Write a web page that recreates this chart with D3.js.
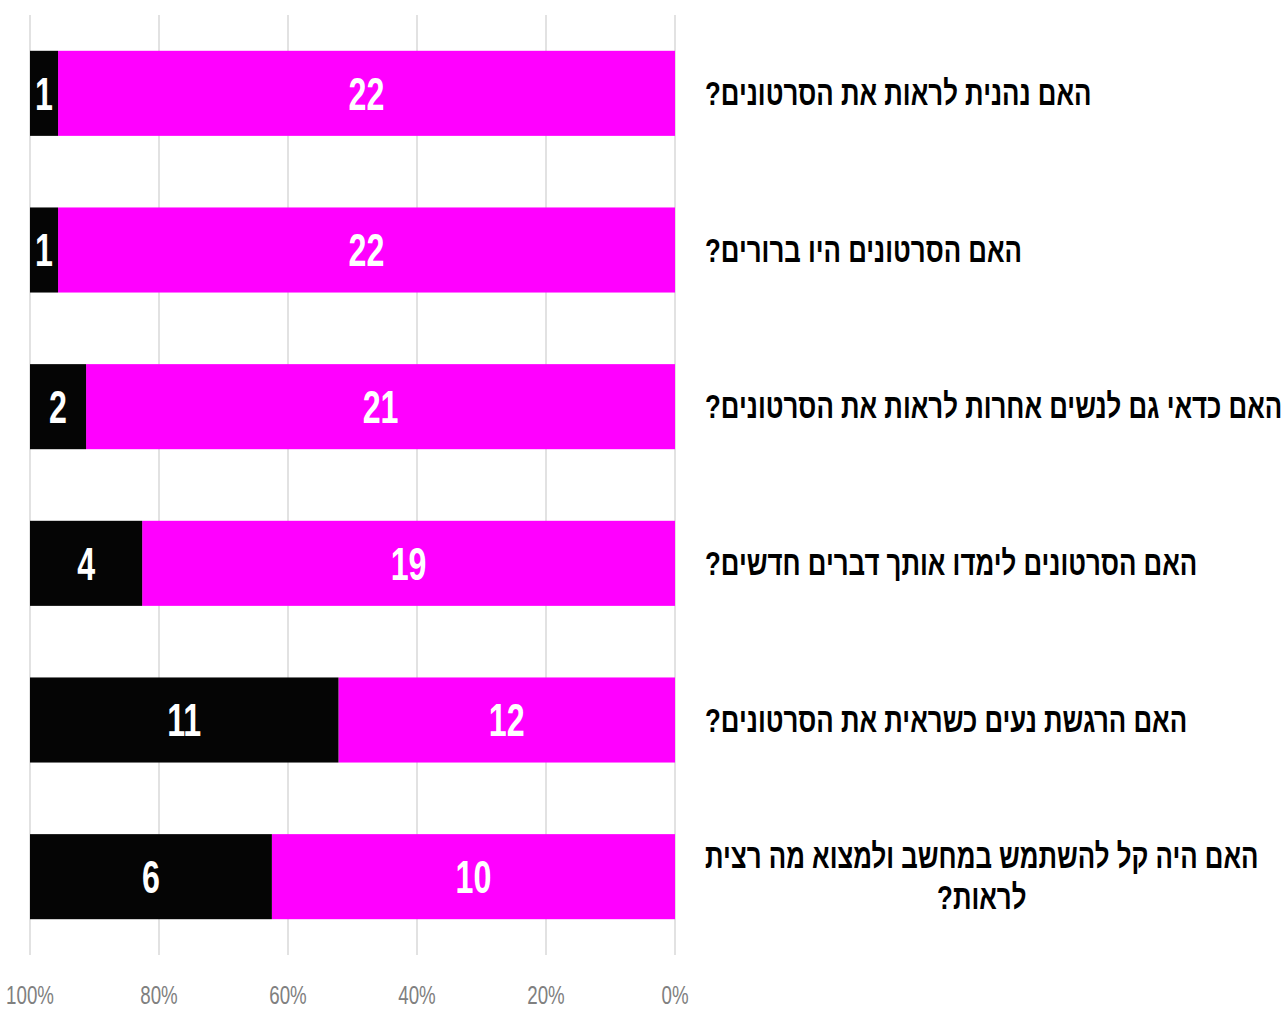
<!DOCTYPE html>
<html lang="he">
<head>
<meta charset="UTF-8">
<title>סקר סרטונים</title>
<script src="https://d3js.org/d3.v7.min.js"></script>
<style>
  body { margin: 0; background: #fff; }
  text { font-family: "Liberation Sans", "DejaVu Sans", sans-serif; }
</style>
</head>
<body>
<div id="chart"></div>
<script>
const width = 1283;
const height = 1010;

// questions (top to bottom), "\n" marks a line break
const categories = [
  "האם נהנית לראות את הסרטונים?",
  "האם הסרטונים היו ברורים?",
  "האם כדאי גם לנשים אחרות לראות את הסרטונים?",
  "האם הסרטונים לימדו אותך דברים חדשים?",
  "האם הרגשת נעים כשראית את הסרטונים?",
  "האם היה קל להשתמש במחשב ולמצוא מה רצית\nלראות?"
];
const blackValues = [1, 1, 2, 4, 11, 6];
const magentaValues = [22, 22, 21, 19, 12, 10];
const tickValues = [0, 0.2, 0.4, 0.6, 0.8, 1];

// the original picture is narrowed horizontally
const squeezeLabel = 0.76;
const squeezeValue = 0.7;
const squeezeTick = 0.72;

const svg = d3.select("#chart").append("svg")
  .attr("width", width)
  .attr("height", height);

// reversed: 100% on the left, 0% on the right
const x = d3.scaleLinear().domain([0, 1]).range([675, 30]);
const y = d3.scaleBand().domain(categories).range([15, 955])
  .paddingInner(0.457).paddingOuter(0.2285);

// gridlines
svg.append("g").selectAll("line")
  .data(tickValues)
  .join("line")
  .attr("x1", d => x(d)).attr("x2", d => x(d))
  .attr("y1", 15).attr("y2", 955)
  .attr("stroke", "#d9d9d9")
  .attr("stroke-width", 1.5);

// tick labels
svg.append("g").selectAll("g")
  .data(tickValues)
  .join("g")
  .attr("transform", d => `translate(${x(d)},995) scale(${squeezeTick},1)`)
  .append("text")
  .attr("text-anchor", "middle")
  .attr("dominant-baseline", "central")
  .attr("font-size", 26)
  .attr("fill", "#808080")
  .text(d3.format(".0%"));

// stacked rows
const rows = categories.map((c, i) => {
  const total = blackValues[i] + magentaValues[i];
  const m = magentaValues[i] / total;
  return [
    { cat: c, value: magentaValues[i], from: 0, to: m, color: "#ff00ff" },
    { cat: c, value: blackValues[i], from: m, to: 1, color: "#050505" }
  ];
}).flat();

svg.append("g").selectAll("rect")
  .data(rows)
  .join("rect")
  .attr("x", d => x(d.to))
  .attr("width", d => x(d.from) - x(d.to))
  .attr("y", d => y(d.cat))
  .attr("height", y.bandwidth())
  .attr("fill", d => d.color);

// value labels
svg.append("g").selectAll("g")
  .data(rows)
  .join("g")
  .attr("transform", d => `translate(${(x(d.from) + x(d.to)) / 2},${y(d.cat) + y.bandwidth() / 2}) scale(${squeezeValue},1)`)
  .append("text")
  .attr("text-anchor", "middle")
  .attr("dominant-baseline", "central")
  .attr("font-size", 46)
  .attr("font-weight", "bold")
  .attr("fill", "#fff")
  .text(d => d.value);

// category labels, block starts at x = 705, lines centred in the block
const labelLeft = 705;
const lineHeight = 42;
categories.forEach(c => {
  const lines = c.split("\n");
  const g = svg.append("g");
  const texts = lines.map(l => g.append("text")
    .attr("direction", "rtl")
    .attr("text-anchor", "middle")
    .attr("dominant-baseline", "central")
    .attr("font-size", 34)
    .attr("font-weight", "bold")
    .attr("fill", "#000")
    .text(l));
  const maxW = d3.max(texts, t => t.node().getComputedTextLength());
  const cy = y(c) + y.bandwidth() / 2;
  g.attr("transform", `translate(${labelLeft + maxW * squeezeLabel / 2},${cy}) scale(${squeezeLabel},1)`);
  texts.forEach((t, k) => t.attr("y", (k - (lines.length - 1) / 2) * lineHeight));
});
</script>
</body>
</html>
